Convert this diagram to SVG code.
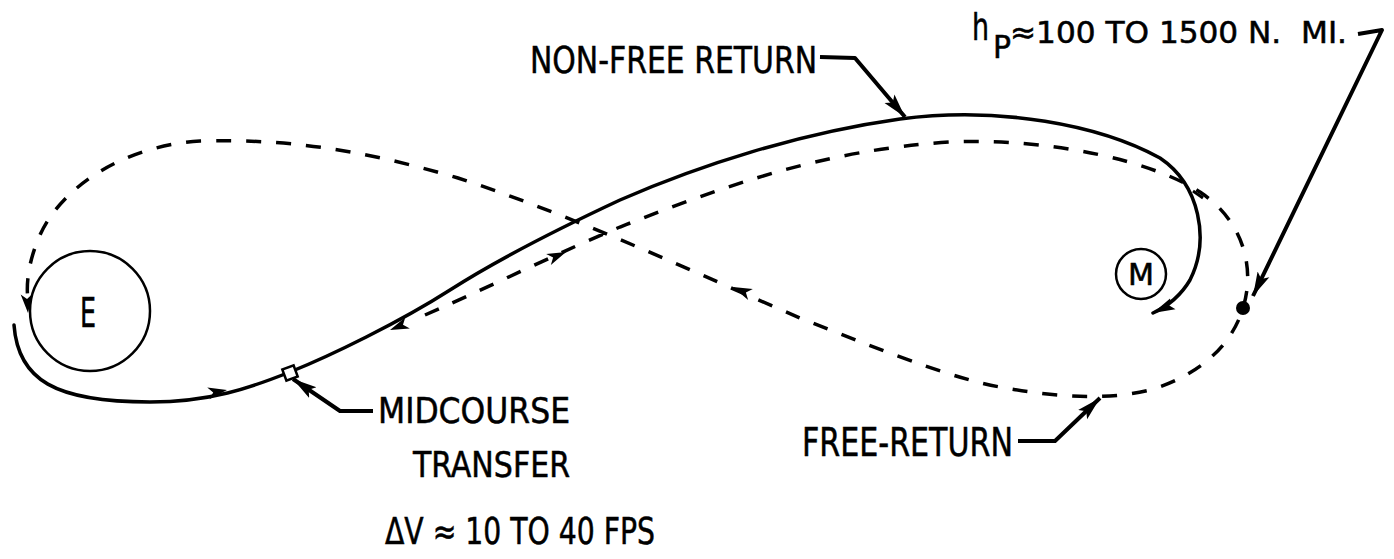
<svg xmlns="http://www.w3.org/2000/svg" xmlns:xlink="http://www.w3.org/1999/xlink" width="1394" height="559" viewBox="0 0 1394 559">
<style>
.txt{font-family:"Liberation Sans Narrow","DejaVu Sans Condensed","Liberation Sans",sans-serif;fill:#000;stroke:#000;stroke-width:0.5}
.solid{fill:none;stroke:#000;stroke-width:3.5;stroke-linecap:round;stroke-linejoin:round}
.dash{fill:none;stroke:#000;stroke-width:3.5;stroke-dasharray:15 15}
.lead{fill:none;stroke:#000;stroke-width:4;stroke-linejoin:round;marker-end:url(#lh)}
.body{fill:#fff;stroke:#000;stroke-width:2.5}
</style>
<defs>
<marker id="lh" markerUnits="userSpaceOnUse" markerWidth="26" markerHeight="16" refX="24" refY="8" orient="auto"><path d="M0,1.5 L24,8 L0,14.5 L5,8 Z" fill="#000"/></marker>
<marker id="eh" markerUnits="userSpaceOnUse" markerWidth="24" markerHeight="16" refX="22" refY="8" orient="auto"><path d="M0,2 L22,8 L0,14 L4,8 Z" fill="#000"/></marker>
<path id="ah" d="M0,0 L-19,-6 L-14,0 L-19,6 Z" fill="#000"/>
</defs>
<g id="earth"><circle class="body" cx="90" cy="311" r="60"/><text class="txt" x="80" y="327" font-size="40" textLength="16" lengthAdjust="spacingAndGlyphs">E</text></g>
<g id="moon"><circle class="body" cx="1141" cy="274" r="25"/><text class="txt" x="1128" y="285" font-size="30" textLength="26" lengthAdjust="spacingAndGlyphs">M</text></g>
<g id="connectors">
<path id="nonfree" class="solid" marker-end="url(#eh)" d="M14,325 C18,380 55,402 150,402 C210,402 250,388 290,372 C330,356 400,322 450,290 C500,258 560,228 620,200 C700,165 800,133 900,119 C1000,106 1100,125 1160,158 C1200,185 1210,240 1190,280 C1180,297 1168,306 1153,313"/>
<path id="freereturn" class="dash" d="M425,315 C500,282 560,252 620,227 C720,188 820,150 950,142 C1050,138 1150,160 1200,192 C1245,222 1255,270 1243,308 C1232,345 1200,375 1150,390 C1110,400 1060,398 1000,387 C960,380 900,358 800,318 C700,275 580,218 458,178 C380,155 300,138 200,141 C120,146 60,190 40,235 C28,262 26,285 28,300"/>
<use xlink:href="#ah" transform="translate(227,390) rotate(-10)"/>
<use xlink:href="#ah" transform="translate(390,330) rotate(158)"/>
<use xlink:href="#ah" transform="translate(566,252) rotate(-23)"/>
<use xlink:href="#ah" transform="translate(733,287) rotate(203)"/>
<use xlink:href="#ah" transform="translate(28,313) rotate(86)"/>
<line x1="1193" y1="191" x2="1203" y2="198" stroke="#000" stroke-width="3"/>
<path class="lead" d="M820,57 L855,58 L905,117"/>
<path class="lead" d="M1358,34 L1382,30 L1253,296"/>
<path class="lead" d="M373,411 L340,411 L293,379"/>
<path class="lead" d="M1018,441 L1055,441 L1100,398"/>
</g>
<g id="midcourse"><rect class="body" x="284" y="367" width="12" height="12" transform="rotate(-20 290 373)"/></g>
<g id="pericynthion"><circle cx="1243" cy="308" r="7" fill="#000"/></g>
<g id="labels">
<text class="txt" x="530" y="73" font-size="38" textLength="287" lengthAdjust="spacingAndGlyphs">NON-FREE RETURN</text>
<text class="txt" x="972" y="40" font-size="38" textLength="17" lengthAdjust="spacingAndGlyphs">h</text>
<text class="txt" x="993" y="58" font-size="32" textLength="18" lengthAdjust="spacingAndGlyphs">P</text>
<text class="txt" x="1010" y="43" font-size="31" textLength="337" lengthAdjust="spacingAndGlyphs" xml:space="preserve">≈100 TO 1500 N.  MI.</text>
<text class="txt" x="378" y="423" font-size="36" textLength="192" lengthAdjust="spacingAndGlyphs">MIDCOURSE</text>
<text class="txt" x="413" y="477" font-size="35" textLength="157" lengthAdjust="spacingAndGlyphs">TRANSFER</text>
<text class="txt" x="385" y="544" font-size="37" textLength="270" lengthAdjust="spacingAndGlyphs">ΔV ≈ 10 TO 40 FPS</text>
<text class="txt" x="802" y="456" font-size="39" textLength="211" lengthAdjust="spacingAndGlyphs">FREE-RETURN</text>
</g>
</svg>
